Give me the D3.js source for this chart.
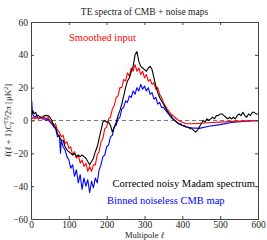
<!DOCTYPE html>
<html>
<head>
<meta charset="utf-8">
<script src="https://cdn.jsdelivr.net/npm/d3@7"></script>
<style>
  body { margin: 0; background: #fff; }
  svg { display: block; }
  svg text { font-family: "Liberation Serif", "DejaVu Serif", serif !important; }
</style>
</head>
<body>
<div id="chart"></div>
<script>
// multipole values and TE spectra
var blackEll = [2,5,8,12,16,20,25,30,35,40,45,50,55,60,65,70,75,80,85,90,95,100,105,110,115,120,125,130,135,140,145,150,155,160,165,170,175,180,185,190,195,200,205,210,215,220,225,230,235,240,245,250,255,260,265,270,275,280,285,290,295,300,305,310,315,320,325,330,335,340,345,350,355,360,365,370,375,380,385,390,395,400,405,410,415,420,425,430,435,440,445,450,455,460,465,470,475,480,485,490,495,500,505,510,515,520,525,530,535,540,545,550,555,560,565,570,575,580,585,590,595,600];
var blackVal = [4,6,4,5,3,3,2,2,3,3,3,2,0,-3,-4,-8,-10,-12,-12,-16,-18,-19,-20,-21,-20,-22,-21,-22,-21,-22,-23,-25,-27,-25,-23,-19,-16,-11,-6,-1,0,-1,-1,-3,-7,-4,-1,3,6,10,15,20,24,26,30,33,40,42,36,33,32,31,30,32,33,31,26,21,17,14,12,10,8,6,4,3,1,0,-1,-2,-2,-3,-3,-4,-4,-5,-5,-6,-7,-6,-4,-2,0,-1,1,0,1,2,1,3,3,4,4,3,2,1,2,1,2,1,3,4,3,5,3,2,4,3,5,5,4,4];

var redEll = [2,5,10,15,20,25,30,35,40,45,50,55,60,65,70,75,80,85,90,95,100,105,110,115,120,125,130,135,140,145,150,155,160,165,170,175,180,185,190,195,200,205,210,215,220,225,230,235,240,245,250,255,260,265,270,275,280,285,290,295,300,305,310,315,320,325,330,335,340,345,350,360,370,380,390,400,410,420,440,460,480,500,525,550,575,600];
var redVal = [1,2,1,2,1,2,1,2,1,2,0,-1,-3,-2,-6,-7,-10,-9,-14,-13,-17,-16,-21,-19,-23,-21,-26,-24,-28,-26,-31,-28,-31,-27,-27,-21,-19,-13,-11,-5,-4,1,2,7,9,14,15,20,20,25,24,29,27,32,30,34,30,32,28,30,26,28,24,25,22,23,19,20,16,14,11,7,4,2,0,-1,-2,-2,-1.8,-1.5,-1.2,-1,-0.7,-0.4,-0.2,0];

var blueEll = [2,4,6,10,15,20,25,30,35,40,45,50,55,60,65,70,75,78,80,85,90,95,100,105,110,115,120,125,130,135,140,145,150,155,160,165,170,175,180,185,190,195,200,205,210,215,220,225,230,235,240,245,250,255,260,265,270,275,280,285,290,295,300,305,310,315,320,325,330,335,340,345,350,360,370,380,390,400,410,425,445,470,500,530,560,600];
var blueVal = [12,4,3,2,3,1,2,1,1,0,1,-1,-2,-4,-5,-10,-9,-20,-12,-16,-18,-22,-24,-29,-27,-34,-30,-38,-33,-42,-35,-40,-36,-44,-37,-41,-35,-38,-30,-27,-22,-21,-16,-15,-10,-9,-4,-3,1,2,7,8,12,11,15,14,18,16,20,18,22,19,21,18,20,16,17,13,14,10,11,8,8,5,2,0,-2,-3,-4,-4.5,-4.8,-3.5,-2.5,-1.2,-0.6,0];

var xTicks = [0,100,200,300,400,500,600];
var yTicks = [-60,-40,-20,0,20,40,60];

var W = 267, H = 240;
var margin = { top: 22, right: 9, bottom: 21, left: 31 },
    width = W - margin.left - margin.right,
    height = H - margin.top - margin.bottom;

var svg = d3.select("#chart").append("svg")
    .attr("width", W)
    .attr("height", H);

var g = svg.append("g")
    .attr("transform", "translate(" + margin.left + "," + margin.top + ")");

var x = d3.scaleLinear().domain([0, 600]).range([0, width]);
var y = d3.scaleLinear().domain([-60, 60]).range([height, 0]);

// zero line
g.append("line")
    .attr("x1", x(0)).attr("x2", x(600))
    .attr("y1", y(0)).attr("y2", y(0))
    .attr("stroke", "#777")
    .attr("stroke-width", 1)
    .attr("stroke-dasharray", "4,3");

var line = d3.line()
    .x(function (d) { return x(d[0]); })
    .y(function (d) { return y(d[1]); });

function series(ell, val, colour) {
    g.append("path")
        .datum(d3.zip(ell, val))
        .attr("fill", "none")
        .attr("stroke", colour)
        .attr("stroke-width", 1.1)
        .attr("stroke-linejoin", "round")
        .attr("d", line);
}
series(blueEll, blueVal, "#0000ff");
series(redEll, redVal, "#ff0000");
series(blackEll, blackVal, "#000000");

// axes, matlab style: ticks inside on all four sides
var axCol = "#444";
g.append("g")
    .attr("transform", "translate(0," + height + ")")
    .call(d3.axisBottom(x).tickValues(xTicks).tickSize(-3).tickPadding(2));
g.append("g")
    .call(d3.axisTop(x).tickValues(xTicks).tickSize(-3).tickFormat(""));
g.append("g")
    .call(d3.axisLeft(y).tickValues(yTicks).tickSize(-3).tickPadding(3));
g.append("g")
    .attr("transform", "translate(" + width + ",0)")
    .call(d3.axisRight(y).tickValues(yTicks).tickSize(-3).tickFormat(""));
g.selectAll(".domain, .tick line").attr("stroke", axCol);
g.selectAll(".tick text")
    .attr("fill", "#222")
    .attr("font-family", null)
    .style("font-size", "9.5px");
g.selectAll(".tick").filter(function (d) { return d === 60 || d === -60; })
    .selectAll("line").remove();

// title
svg.append("text")
    .attr("x", margin.left + width / 2)
    .attr("y", 15)
    .attr("text-anchor", "middle")
    .style("font-size", "9.5px")
    .attr("fill", "#222")
    .text("TE spectra of CMB + noise maps");

// x label
var xl = svg.append("text")
    .attr("x", margin.left + width / 2)
    .attr("y", 238)
    .attr("text-anchor", "middle")
    .style("font-size", "8.5px")
    .attr("fill", "#222");
xl.append("tspan").text("Multipole ");
xl.append("tspan").style("font-style", "italic").text("ℓ");

// y label
var yl = svg.append("text")
    .attr("transform", "translate(11," + (margin.top + height / 2) + ") rotate(-90)")
    .attr("text-anchor", "middle")
    .style("font-size", "9px")
    .attr("fill", "#222");
yl.append("tspan").style("font-style", "italic").text("ℓ");
yl.append("tspan").text("(");
yl.append("tspan").style("font-style", "italic").text("ℓ");
yl.append("tspan").text(" + 1)");
yl.append("tspan").style("font-style", "italic").text("C");
yl.append("tspan").attr("dy", -3).style("font-size", "6px").text("TE");
yl.append("tspan").attr("dx", -8).attr("dy", 6).style("font-size", "6px").style("font-style", "italic").text("ℓ");
yl.append("tspan").attr("dx", 4).attr("dy", -3).text("/2π  [μK");
yl.append("tspan").attr("dy", -3).style("font-size", "6px").text("2");
yl.append("tspan").attr("dy", 3).text("]");

// legend texts
svg.append("text")
    .attr("x", 69).attr("y", 41)
    .style("font-size", "10.5px")
    .attr("fill", "#ff0000")
    .text("Smoothed input");
svg.append("text")
    .attr("x", 255).attr("y", 187)
    .attr("text-anchor", "end")
    .style("font-size", "10.5px")
    .attr("fill", "#000")
    .text("Corrected noisy Madam spectrum");
svg.append("text")
    .attr("x", 107).attr("y", 204)
    .style("font-size", "10.5px")
    .attr("fill", "#0000ff")
    .text("Binned noiseless CMB map");
</script>
</body>
</html>
